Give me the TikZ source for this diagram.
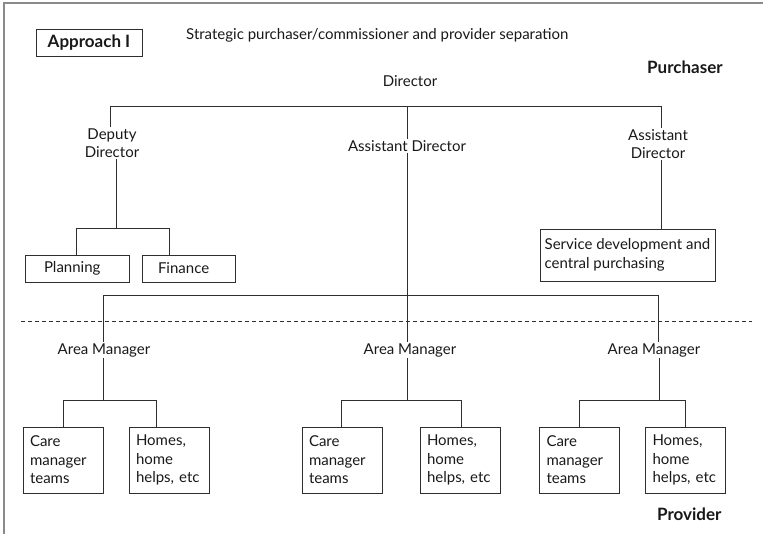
\documentclass[tikz,border=0pt]{standalone}
\usepackage{fontspec}
\setmainfont{Lato}
\definecolor{linec}{HTML}{2E2E2E}
\definecolor{framec}{HTML}{8A8A8A}
\begin{document}
\begin{tikzpicture}[x=1pt,y=-1pt,
  txt/.style={font=\fontsize{15}{18.5}\selectfont, inner sep=1pt, align=center, text=black!90},
  bold/.style={font=\fontsize{17}{20}\selectfont\bfseries, inner sep=1pt, text=black!90},
  box/.style={draw=linec, line width=0.9pt, font=\fontsize{15}{18.5}\selectfont, text=black!90, inner ysep=0pt},
  smallbox/.style={box, minimum width=80pt, minimum height=66pt, text width=66pt, inner xsep=7pt, align=left},
  ln/.style={draw=linec, line width=0.9pt}]
\useasboundingbox (0,0) rectangle (763,534);
% frame
\draw[framec, line width=2pt] (3.5,534) -- (3.5,3) -- (763,3);

% header
\node[box, bold, draw=linec, minimum width=106pt, minimum height=27pt] (appr) at (89,42.5) {Approach I};
\node[txt, anchor=west] (title) at (185,35) {Strategic purchaser/commissioner and provider separation};
\node[bold, anchor=west] (purch) at (646,67) {Purchaser};
\node[txt] (dir) at (410,81) {Director};

% level 2
\node[txt] (dd) at (112,143) {Deputy\\Director};
\node[txt] (ad) at (407,146) {Assistant Director};
\node[txt] (ad2) at (658,144) {Assistant\\Director};

\coordinate (t1) at (110,106);
\coordinate (t2) at (661,106);
\draw[ln] (t1) -- (t2);
\draw[ln] (t1) -- (t1 |- dd.north);
\draw[ln] (ad.north |- t1) -- (ad.north);
\draw[ln] (t2) -- (t2 |- ad2.north);

% planning / finance
\node[box, minimum width=104pt, minimum height=27pt, text width=66pt, inner xsep=19pt, align=left] (plan) at (77,268.5) {Planning};
\node[box, minimum width=93pt, minimum height=27pt, text width=61pt, inner xsep=16pt, align=left] (fin) at (188.5,268.5) {Finance};
\coordinate (p1) at (76,228);
\coordinate (p2) at (169,228);
\draw[ln] (dd.south -| 116,0) -- (116,228);
\draw[ln] (plan.north -| p1) -- (p1) -- (p2) -- (fin.north -| p2);

% service box
\node[box, minimum width=175pt, minimum height=52pt, inner xsep=2pt, align=left] (serv) at (627.5,255) {Service development and\\central purchasing};
\draw[ln] (ad2.south -| t2) -- (serv.north -| t2);

% divider
\draw[linec, line width=0.8pt, dash pattern=on 4pt off 3pt] (21,321) -- (752,321);

% area managers
\node[txt] (am1) at (104,350) {Area Manager};
\node[txt] (am2) at (410,350) {Area Manager};
\node[txt] (am3) at (654,350) {Area Manager};

\coordinate (b1) at (103,295);
\coordinate (b2) at (658.5,295);
\draw[ln] (ad.south) -- (ad.south |- am2.north);
\draw[ln] (am1.north -| b1) -- (b1) -- (b2) -- (am3.north -| b2);

% team boxes
\node[smallbox] (c1) at (63,460) {Care\\manager\\teams};
\node[smallbox] (h1) at (169,460) {Homes,\\home\\helps, etc};
\node[smallbox] (c2) at (342,460) {Care\\manager\\teams};
\node[smallbox] (h2) at (460,460) {Homes,\\home\\helps, etc};
\node[smallbox] (c3) at (579.5,460) {Care\\manager\\teams};
\node[smallbox] (h3) at (685.5,460) {Homes,\\home\\helps, etc};

% connectors to teams
\draw[ln] (am1.south -| 103,0) -- (103,400);
\draw[ln] (c1.north) -- (63,400) -- (156,400) -- (h1.north -| 156,0);
\draw[ln] (am2.south -| 407,0) -- (407,400);
\draw[ln] (c2.north -| 341,0) -- (341,400) -- (461,400) -- (h2.north -| 461,0);
\draw[ln] (am3.south -| 659,0) -- (659,400);
\draw[ln] (c3.north -| 579,0) -- (579,400) -- (685,400) -- (h3.north -| 685,0);

\node[bold, anchor=west] (prov) at (656,514) {Provider};
\end{tikzpicture}
\end{document}
